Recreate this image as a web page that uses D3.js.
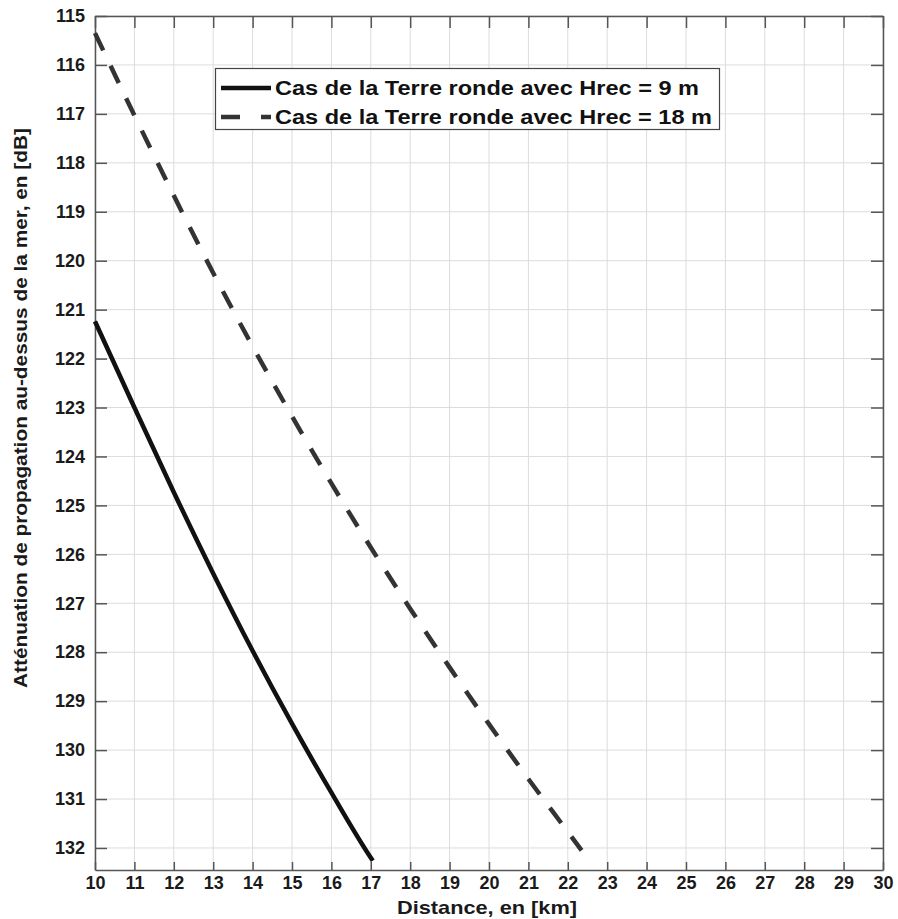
<!DOCTYPE html>
<html>
<head>
<meta charset="utf-8">
<script src="https://cdn.jsdelivr.net/npm/d3@7"></script>
<style>
  html, body { margin: 0; padding: 0; background: #fff; }
  svg { display: block; }
  text { font-family: "Liberation Sans", Arial, sans-serif; font-weight: bold; }
</style>
</head>
<body>
<svg id="chart" width="898" height="919"></svg>
<script>
// ---- Data ----
const xTicks = [10,11,12,13,14,15,16,17,18,19,20,21,22,23,24,25,26,27,28,29,30];
const yTicks = [115,116,117,118,119,120,121,122,123,124,125,126,127,128,129,130,131,132];

const distance9 = [10, 11, 12, 13, 14, 15, 16, 17, 17.05];
const atten9    = [121.24, 123.0, 124.73, 126.39, 127.97, 129.46, 130.87, 132.2, 132.26];

const distance18 = [10, 11, 12, 13, 14, 15, 16, 17, 18, 19, 20, 21, 22, 22.35];
const atten18    = [115.35, 117.03, 118.67, 120.25, 121.75, 123.18, 124.55, 125.86, 127.11, 128.31, 129.47, 130.59, 131.67, 132.05];

const seriesLabels = ["Cas de la Terre ronde avec Hrec = 9 m", "Cas de la Terre ronde avec Hrec = 18 m"];
const xLabel = "Distance, en [km]";
const yLabel = "Atténuation de propagation au-dessus de la mer, en [dB]";

(function () {
// ---- Layout ----
const svg = d3.select("#chart");
const L = 95, R = 883, T = 16, B = 870;
const x = d3.scaleLinear().domain([10, 30]).range([L, R]);
const y = d3.scaleLinear().domain([115, 132.45]).range([T, B]);

// grid
const grid = svg.append("g");
grid.selectAll("line.gx").data(xTicks).join("line")
  .attr("x1", d => x(d)).attr("x2", d => x(d)).attr("y1", T).attr("y2", B)
  .attr("stroke", "#dcdcdc").attr("stroke-width", 1);
grid.selectAll("line.gy").data(yTicks).join("line")
  .attr("x1", L).attr("x2", R).attr("y1", d => y(d)).attr("y2", d => y(d))
  .attr("stroke", "#dcdcdc").attr("stroke-width", 1);

// axes
const axisColor = "#555";
const gBottom = svg.append("g").attr("transform", `translate(0,${B})`)
  .call(d3.axisBottom(x).tickValues(xTicks).tickFormat(d3.format("d")).tickSizeInner(-8).tickSizeOuter(0).tickPadding(6));
const gTop = svg.append("g").attr("transform", `translate(0,${T})`)
  .call(d3.axisTop(x).tickValues(xTicks).tickFormat("").tickSizeInner(-12).tickSizeOuter(0));
const gLeft = svg.append("g").attr("transform", `translate(${L},0)`)
  .call(d3.axisLeft(y).tickValues(yTicks).tickFormat(d3.format("d")).tickSizeInner(-12).tickSizeOuter(0).tickPadding(10));
const gRight = svg.append("g").attr("transform", `translate(${R},0)`)
  .call(d3.axisRight(y).tickValues(yTicks).tickFormat("").tickSizeInner(-12).tickSizeOuter(0));

[gBottom, gTop, gLeft, gRight].forEach(g => {
  g.select(".domain").attr("stroke", axisColor).attr("stroke-width", 1.5);
  g.selectAll(".tick line").attr("stroke", axisColor).attr("stroke-width", 1.5);
  g.selectAll(".tick text").attr("fill", "#1a1a1a").style("font-size", "18px").style("font-weight", "bold");
});

// lines
const line = d3.line().x(d => x(d[0])).y(d => y(d[1])).curve(d3.curveMonotoneX);
const data9 = distance9.map((d, i) => [d, atten9[i]]);
const data18 = distance18.map((d, i) => [d, atten18[i]]);

svg.append("path").datum(data9).attr("d", line)
  .attr("fill", "none").attr("stroke", "#111").attr("stroke-width", 4.5);
svg.append("path").datum(data18).attr("d", line)
  .attr("fill", "none").attr("stroke", "#333").attr("stroke-width", 4.5)
  .attr("stroke-dasharray", "19,17");

// legend
const lg = svg.append("g");
lg.append("rect").attr("x", 215.5).attr("y", 68.5).attr("width", 504).attr("height", 61)
  .attr("fill", "#fff").attr("stroke", "#444").attr("stroke-width", 1.2);
const rows = [88, 117];
const legWidths = [424, 437];
lg.append("line").attr("x1", 221).attr("x2", 271).attr("y1", rows[0]).attr("y2", rows[0])
  .attr("stroke", "#111").attr("stroke-width", 4.5);
lg.append("line").attr("x1", 221).attr("x2", 271).attr("y1", rows[1]).attr("y2", rows[1])
  .attr("stroke", "#333").attr("stroke-width", 4.5).attr("stroke-dasharray", "19,21");
lg.selectAll("text.leg").data(seriesLabels).join("text")
  .attr("x", 275).attr("y", (d, i) => rows[i] + 7)
  .attr("textLength", (d, i) => legWidths[i]).attr("lengthAdjust", "spacingAndGlyphs")
  .attr("fill", "#111").style("font-size", "19.5px")
  .text(d => d);

// axis labels
svg.append("text").attr("x", (L + R) / 2 - 2).attr("y", 914).attr("text-anchor", "middle")
  .attr("textLength", 180).attr("lengthAdjust", "spacingAndGlyphs")
  .attr("fill", "#1a1a1a").style("font-size", "19px").text(xLabel);
svg.append("text")
  .attr("transform", "translate(27,408) rotate(-90)")
  .attr("text-anchor", "middle")
  .attr("textLength", 560).attr("lengthAdjust", "spacingAndGlyphs")
  .attr("fill", "#1a1a1a").style("font-size", "19px").text(yLabel);
})();
</script>
</body>
</html>
